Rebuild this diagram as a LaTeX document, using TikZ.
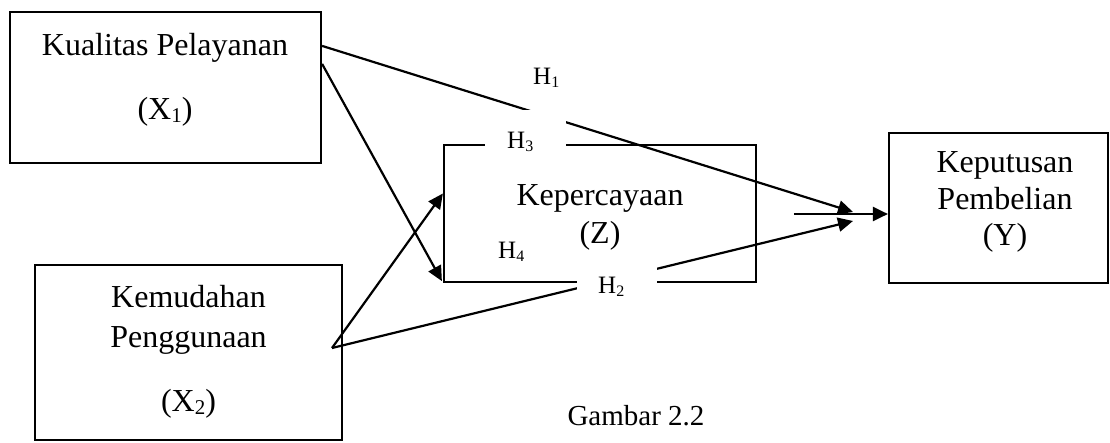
\documentclass[tikz,border=0pt]{standalone}
\usepackage{fontspec}
\setmainfont{Liberation Serif}
\usetikzlibrary{arrows.meta}
\newcommand\subbig[1]{\raisebox{-3pt}{\fontsize{21}{21}\selectfont #1}}
\newcommand\subsmall[1]{\raisebox{-3pt}{\fontsize{16}{16}\selectfont #1}}
\tikzset{
  box/.style={draw, line width=2.2pt, inner sep=0pt},
  txt/.style={font=\fontsize{32}{38}\selectfont, anchor=base, inner sep=0pt},
  hl/.style={font=\fontsize{25}{30}\selectfont, anchor=base west, inner sep=0pt},
  captxt/.style={font=\fontsize{29}{34}\selectfont, anchor=base, inner sep=0pt},
  mask/.style={fill=white, inner sep=0pt},
  arr/.style={line width=2.2pt, -{Triangle[length=15pt,width=14pt]}}
}
\begin{document}
\begin{tikzpicture}[x=1pt, y=-1pt]
\useasboundingbox (0,0) rectangle (1110,442);
% boxes
\node[box, minimum width=311pt, minimum height=151pt] (x1) at (165.5,87.5) {};
\node[box, minimum width=307pt, minimum height=175pt] (x2) at (188.5,352.5) {};
\node[box, minimum width=312pt, minimum height=137pt] (z) at (600,213.5) {};
\node[box, minimum width=219pt, minimum height=150pt] (y) at (998.5,208) {};
% box texts
\node[txt] (x1a) at (165,55) {Kualitas Pelayanan};
\node[txt] (x1b) at (165,119) {(X\subbig{1})};
\node[txt] (x2a) at (188.5,307) {Kemudahan};
\node[txt] (x2b) at (188.5,347) {Penggunaan};
\node[txt] (x2c) at (188.5,411) {(X\subbig{2})};
\node[txt] (za) at (600,205) {Kepercayaan};
\node[txt] (zb) at (600,243) {(Z)};
\node[txt] (ya) at (1005,172) {Keputusan};
\node[txt] (yb) at (1005,209) {Pembelian};
\node[txt] (yc) at (1005,245) {(Y)};
% connector ends
\coordinate (s2) at (332,348);
\coordinate (t1) at (853,212);
\coordinate (t2) at (853,221);
% connectors
\draw[arr] ([yshift=-35pt]x1.north east) -- (t1);
\draw[arr] ([yshift=-53pt]x1.north east) -- ([xshift=-1pt,yshift=2pt]z.south west);
\draw[arr] (s2) -- ([yshift=20pt]z.west);
\draw[arr] (s2) -- (t2);
\draw[arr] ([xshift=-94pt,yshift=-6pt]y.west) -- ([yshift=-6pt]y.west);
% label masks
\node[mask, minimum width=81pt, minimum height=44pt] (m3) at (525.5,132) {};
\node[mask, minimum width=80pt, minimum height=36pt] (m2) at (617,281) {};
% hypothesis labels
\node[hl] (h1) at (533,84) {H\subsmall{1}};
\node[hl] (h3) at (507,148) {H\subsmall{3}};
\node[hl] (h4) at (498,258) {H\subsmall{4}};
\node[hl] (h2) at (598,293) {H\subsmall{2}};
% caption
\node[captxt] (g) at (636,425) {Gambar 2.2};
\end{tikzpicture}
\end{document}
